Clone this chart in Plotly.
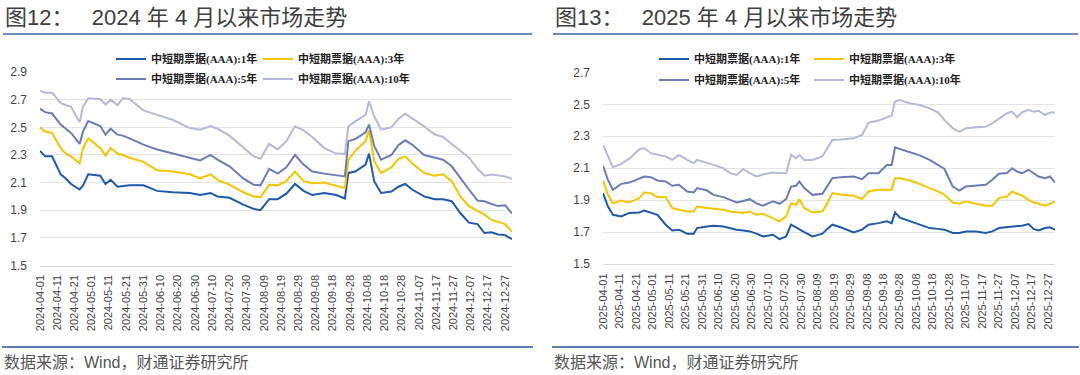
import pandas as pd
import plotly.graph_objects as go

# ---------------- data ----------------
series_names = ["中短期票据(AAA):1年", "中短期票据(AAA):3年",
                "中短期票据(AAA):5年", "中短期票据(AAA):10年"]
colors = ["#1f5aa6", "#f5c400", "#6b7db3", "#b6b9d7"]

start_2024 = "2024-04-01"
days_2024 = [0, 3, 7, 12, 15, 18, 23, 25, 28, 35, 38, 41, 45, 48, 52, 60, 68, 77, 87, 93,
             99, 103, 110, 118, 124, 128, 133, 138, 143, 148, 153, 158, 165, 172, 177, 179,
             183, 189, 191, 194, 198, 204, 208, 212, 216, 223, 229, 234, 239, 244, 249, 254,
             258, 262, 266, 270, 274]
y1_2024 = [2.33, 2.29, 2.29, 2.16, 2.13, 2.09, 2.05, 2.08, 2.16, 2.15,
           2.09, 2.12, 2.07, 2.075, 2.08, 2.08, 2.04, 2.03, 2.025, 2.01,
           2.025, 2.00, 1.99, 1.94, 1.91, 1.90, 1.98, 1.98, 2.02, 2.09,
           2.04, 2.01, 2.025, 2.01, 1.985, 2.17, 2.18, 2.23, 2.31, 2.11,
           2.025, 2.035, 2.07, 2.09, 2.05, 2.00, 1.98, 1.98, 1.965, 1.88,
           1.81, 1.80, 1.735, 1.74, 1.725, 1.72, 1.69]
y3_2024 = [2.50, 2.47, 2.46, 2.35, 2.31, 2.29, 2.24, 2.35, 2.42, 2.35,
           2.295, 2.35, 2.31, 2.30, 2.28, 2.25, 2.19, 2.18, 2.16, 2.13,
           2.16, 2.12, 2.085, 2.03, 2.00, 1.995, 2.085, 2.08, 2.11, 2.18,
           2.11, 2.095, 2.10, 2.075, 2.06, 2.265, 2.33, 2.40, 2.48, 2.255,
           2.17, 2.21, 2.27, 2.29, 2.24, 2.17, 2.15, 2.16, 2.11, 2.00,
           1.93, 1.895, 1.87, 1.83, 1.815, 1.80, 1.745]
y5_2024 = [2.635, 2.61, 2.60, 2.52, 2.49, 2.46, 2.38, 2.47, 2.545, 2.51,
           2.447, 2.49, 2.447, 2.44, 2.42, 2.375, 2.34, 2.31, 2.28, 2.26,
           2.30, 2.266, 2.218, 2.13, 2.085, 2.08, 2.20, 2.165, 2.21, 2.30,
           2.23, 2.18, 2.165, 2.155, 2.145, 2.40, 2.415, 2.464, 2.52, 2.365,
           2.266, 2.30, 2.37, 2.406, 2.375, 2.30, 2.28, 2.266, 2.218, 2.13,
           2.05, 1.97, 1.965, 1.945, 1.93, 1.936, 1.876]
y10_2024 = [2.765, 2.75, 2.75, 2.676, 2.66, 2.65, 2.536, 2.65, 2.71, 2.705,
            2.664, 2.70, 2.66, 2.71, 2.705, 2.623, 2.59, 2.555, 2.495, 2.483,
            2.51, 2.49, 2.44, 2.357, 2.29, 2.273, 2.38, 2.34, 2.40, 2.507,
            2.478, 2.43, 2.35, 2.31, 2.307, 2.507, 2.543, 2.59, 2.688, 2.58,
            2.483, 2.50, 2.56, 2.598, 2.567, 2.507, 2.45, 2.43, 2.38, 2.33,
            2.28, 2.20, 2.15, 2.158, 2.15, 2.145, 2.127]

start_2025 = "2025-04-01"
days_2025 = [0, 3, 6, 11, 16, 22, 25, 29, 33, 38, 42, 46, 51, 55, 57, 63, 67, 73, 77, 81,
             85, 89, 93, 97, 103, 107, 111, 114, 117, 119, 122, 127, 133, 136, 139, 144,
             152, 157, 161, 167, 172, 175, 177, 180, 186, 192, 198, 203, 207, 212, 216,
             220, 226, 232, 236, 240, 245, 248, 251, 254, 258, 261, 264, 268, 271, 274]
y1_2025 = [1.944, 1.86, 1.808, 1.798, 1.82, 1.823, 1.835, 1.82, 1.808, 1.746,
           1.71, 1.715, 1.69, 1.69, 1.725, 1.735, 1.74, 1.735, 1.725, 1.715,
           1.71, 1.704, 1.69, 1.673, 1.683, 1.656, 1.673, 1.746, 1.73, 1.72,
           1.70, 1.673, 1.69, 1.72, 1.746, 1.73, 1.698, 1.715, 1.746, 1.756,
           1.767, 1.756, 1.823, 1.79, 1.767, 1.746, 1.725, 1.72, 1.715, 1.694,
           1.694, 1.704, 1.704, 1.694, 1.704, 1.725, 1.73, 1.735, 1.735, 1.74,
           1.75, 1.72, 1.71, 1.725, 1.73, 1.715]
y3_2025 = [2.023, 1.933, 1.88, 1.898, 1.885, 1.913, 1.948, 1.944, 1.919, 1.919,
           1.85, 1.84, 1.829, 1.829, 1.86, 1.85, 1.845, 1.84, 1.829, 1.825,
           1.82, 1.829, 1.808, 1.815, 1.788, 1.767, 1.798, 1.88, 1.87, 1.906,
           1.85, 1.823, 1.83, 1.88, 1.944, 1.935, 1.927, 1.906, 1.954, 1.965,
           1.965, 1.965, 2.037, 2.037, 2.023, 2.002, 1.975, 1.955, 1.933, 1.885,
           1.877, 1.892, 1.877, 1.865, 1.865, 1.913, 1.923, 1.954, 1.94, 1.93,
           1.902, 1.885, 1.877, 1.865, 1.877, 1.892]
y5_2025 = [2.115, 2.027, 1.965, 2.002, 2.01, 2.037, 2.048, 2.044, 2.023, 2.017,
           1.99, 1.996, 1.954, 1.948, 1.975, 1.96, 1.933, 1.919, 1.902, 1.885,
           1.895, 1.906, 1.88, 1.865, 1.892, 1.877, 1.906, 1.985, 1.99, 2.017,
           1.975, 1.933, 1.94, 1.99, 2.037, 2.044, 2.048, 2.031, 2.069, 2.069,
           2.12, 2.12, 2.231, 2.22, 2.20, 2.18, 2.152, 2.12, 2.095, 1.985,
           1.96, 1.985, 1.99, 1.996, 2.027, 2.065, 2.07, 2.10, 2.079, 2.069,
           2.09, 2.07, 2.048, 2.037, 2.048, 2.01]
y10_2025 = [2.246, 2.173, 2.106, 2.127, 2.16, 2.219, 2.225, 2.194, 2.183, 2.173,
            2.152, 2.183, 2.152, 2.131, 2.152, 2.135, 2.121, 2.10, 2.069, 2.058,
            2.094, 2.069, 2.048, 2.06, 2.073, 2.069, 2.07, 2.183, 2.163, 2.183,
            2.152, 2.152, 2.173, 2.225, 2.277, 2.28, 2.287, 2.308, 2.385, 2.398,
            2.419, 2.43, 2.517, 2.527, 2.506, 2.496, 2.475, 2.45, 2.402, 2.35,
            2.329, 2.35, 2.356, 2.36, 2.381, 2.41, 2.444, 2.454, 2.419, 2.45,
            2.465, 2.454, 2.46, 2.433, 2.448, 2.448]

y_ticks_2024 = [1.5, 1.7, 1.9, 2.1, 2.3, 2.5, 2.7, 2.9]
y_ticks_2025 = [1.5, 1.7, 1.9, 2.1, 2.3, 2.5, 2.7]

title_left = "图12：\u00a0\u00a0\u00a02024 年 4 月以来市场走势"
title_right = "图13：\u00a0\u00a0\u00a02025 年 4 月以来市场走势"
source_text = "数据来源：Wind，财通证券研究所"

# ---------------- figure ----------------
W, H = 1080, 375
def px(x):
    return x / W
def py(y):
    return 1 - y / H

dates_2024 = pd.Timestamp(start_2024) + pd.to_timedelta(days_2024, unit="D")
dates_2025 = pd.Timestamp(start_2025) + pd.to_timedelta(days_2025, unit="D")

fig = go.Figure()
left_vals = [y1_2024, y3_2024, y5_2024, y10_2024]
right_vals = [y1_2025, y3_2025, y5_2025, y10_2025]

# legend positions (pixel x of legend box, pixel y of row centre)
leg_pos_left = [(111, 59), (258, 59), (111, 79), (258, 79)]
leg_pos_right = [(654, 59), (809, 59), (654, 80), (809, 80)]

leg_font = dict(family="Liberation Serif, Noto Sans CJK SC, serif", size=11,
                color="#222222", weight="bold")
legends = {}
for i in range(4):
    lid = "legend" if i == 0 else f"legend{i + 1}"
    fig.add_trace(go.Scatter(x=dates_2024, y=left_vals[i], mode="lines", name=series_names[i],
                             line=dict(color=colors[i], width=2), xaxis="x", yaxis="y",
                             legend=lid))
    legends[lid] = leg_pos_left[i]
for i in range(4):
    lid = f"legend{i + 5}"
    fig.add_trace(go.Scatter(x=dates_2025, y=right_vals[i], mode="lines", name=series_names[i],
                             line=dict(color=colors[i], width=2), xaxis="x2", yaxis="y2",
                             legend=lid))
    legends[lid] = leg_pos_right[i]

tick_font = dict(family="Liberation Sans, Arial, sans-serif", size=11, color="#444444")
ytick_font = dict(family="Liberation Sans, Arial, sans-serif", size=12, color="#444444")

def xaxis_cfg(start, domain, anchor):
    s = pd.Timestamp(start)
    return dict(domain=domain, type="date", anchor=anchor,
                range=[s, s + pd.Timedelta(days=274)],
                tick0=s, dtick=10 * 86400000, tickformat="%Y-%m-%d",
                tickangle=-90, tickfont=tick_font, showgrid=False, zeroline=False,
                showline=True, linecolor="#d9d9d9", linewidth=1, ticks="",
                ticklabelstandoff=4, automargin=False, fixedrange=True)

def yaxis_cfg(ticks, domain, anchor):
    return dict(domain=domain, range=[1.5, ticks[-1] + 0.0005], tickvals=ticks,
                tickformat=".1f", tickfont=ytick_font, showgrid=True,
                gridcolor="#e4e4e4", gridwidth=1, zeroline=False, showline=False,
                ticks="", ticklabelstandoff=12, anchor=anchor, automargin=False,
                fixedrange=True)

layout_legends = {}
for lid, (lx, ly) in legends.items():
    layout_legends[lid] = dict(x=px(lx), y=py(ly), xanchor="left", yanchor="middle",
                               orientation="h", font=leg_font, bgcolor="rgba(0,0,0,0)",
                               itemwidth=30)

fig.update_layout(
    width=W, height=H, margin=dict(l=0, r=0, t=0, b=0, autoexpand=False),
    paper_bgcolor="white", plot_bgcolor="white", showlegend=True,
    xaxis=xaxis_cfg(start_2024, [px(40), px(512)], "y"),
    yaxis=yaxis_cfg(y_ticks_2024, [py(265.5), py(72)], "x"),
    xaxis2=xaxis_cfg(start_2025, [px(603), px(1055)], "y2"),
    yaxis2=yaxis_cfg(y_ticks_2025, [py(264), py(72.3)], "x2"),
    **layout_legends,
)

title_font = dict(family="Liberation Sans, Noto Sans CJK SC, sans-serif", size=22,
                  color="#404040")
src_font = dict(family="Liberation Sans, Noto Sans CJK SC, sans-serif", size=16,
                color="#555555")

for x0, x1, title in [(3, 532, title_left), (553, 1078, title_right)]:
    fig.add_annotation(x=px(x0), y=py(17), xref="paper", yref="paper", text=title,
                       showarrow=False, xanchor="left", yanchor="middle", font=title_font)
    fig.add_annotation(x=px(x0 - 1), y=py(362), xref="paper", yref="paper", text=source_text,
                       showarrow=False, xanchor="left", yanchor="middle", font=src_font)
    fig.add_shape(type="line", xref="paper", yref="paper", x0=px(x0), x1=px(x1),
                  y0=py(34), y1=py(34), line=dict(color="#6f8db8", width=2))
    fig.add_shape(type="line", xref="paper", yref="paper", x0=px(x0 - 1), x1=px(x1 + 1),
                  y0=py(347), y1=py(347), line=dict(color="#2a5395", width=1.5))

fig.write_html("out.html", config={"displayModeBar": False},
               post_script="document.body.style.margin='0px';document.body.style.overflow='hidden';")
